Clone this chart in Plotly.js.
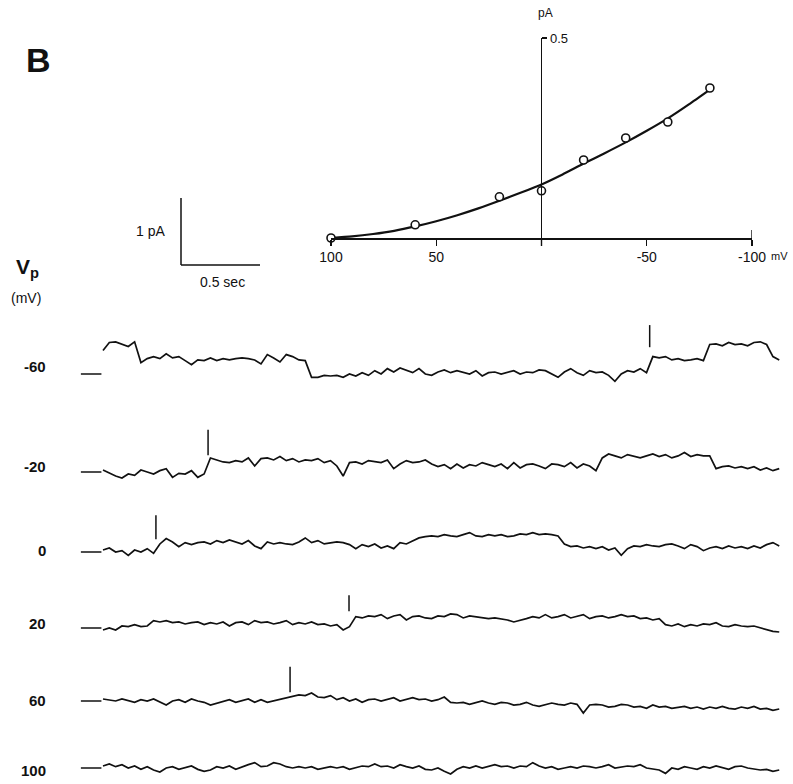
<!DOCTYPE html>
<html><head><meta charset="utf-8">
<script src="https://cdn.plot.ly/plotly-3.0.1.min.js"></script>
<style>html,body{margin:0;padding:0;background:#fff}#chart{width:793px;height:784px}</style>
</head><body><div id="chart"></div>
<script>
// ---------- I-V relation (inset) ----------
const ivVoltage = [100, 60, 20, 0, -20, -40, -60, -80];          // mV
const ivCurrent = [0, 0.033, 0.103, 0.118, 0.195, 0.25, 0.29, 0.375]; // pA
const fitVoltage = [100, 90, 80, 70, 60, 50, 40, 30, 20, 10, 0, -10, -20, -30, -40, -50, -60, -70, -80];
const fitCurrent = [0, 0.004, 0.010, 0.018, 0.029, 0.042, 0.057, 0.074, 0.093, 0.113, 0.134, 0.159, 0.186, 0.212, 0.239, 0.268, 0.299, 0.334, 0.371];
const ivTickVals = [100, 50, -50, -100];
const ivTickText = ['100', '50', '-50', '-100'];

// ---------- single-channel records (pA relative to closed level) ----------
const rowLabels = ['-60', '-20', '0', '20', '60', '100'];   // Vp, mV
const sampleInterval = 0.04;  // s between samples
const rec_m60 = [0.35,0.47,0.48,0.45,0.41,0.48,
 0.17,0.23,0.26,0.23,0.3,0.24,0.26,0.2,0.14,0.21,0.2,0.24,0.2,0.23,0.21,0.23,0.24,0.23,0.21,0.15,0.29,0.24,0.18,0.29,0.26,0.21,0.2,
 -0.05,-0.05,-0.02,-0.03,-0.02,-0.05,0,-0.03,0.02,-0.02,0.05,0,0.08,0.03,0.09,0.05,0.02,0.08,0,-0.02,0.03,0.06,0.02,0.05,0.03,0,0.05,-0.03,0.02,0.03,0,0.02,0.05,0,0.03,0.02,0.06,0.05,0,-0.05,0.03,0.08,0.02,-0.02,0.05,0.02,0.03,-0.02,-0.11,0,0.05,0.03,0.08,0.02,
 0.26,0.24,0.26,0.21,0.23,0.2,0.21,0.23,0.2,
 0.44,0.45,0.42,0.47,0.44,0.45,0.42,0.47,0.48,0.44,
 0.26,0.21];
const rec_m20 = [0.03,-0.02,-0.06,-0.09,-0.03,-0.05,0.03,0,-0.03,0.02,0.05,-0.08,-0.02,-0.03,0.02,-0.08,-0.03,
 0.21,0.18,0.15,0.14,0.17,0.15,0.21,0.09,0.2,0.21,0.18,0.23,0.17,0.2,0.15,0.18,0.17,0.2,0.14,0.17,0.09,-0.06,0.14,0.15,0.12,0.17,0.15,0.14,0.18,0.05,0.12,0.17,0.14,0.15,0.18,0.12,0.08,0.11,0.05,0.12,0.06,0.11,0.09,0.14,0.11,0.08,0.12,0.05,0.14,0.06,0.11,0.12,0.09,0.05,0.12,0.11,0.08,0.14,0.06,0.12,0.09,0.02,
 0.21,0.27,0.24,0.21,0.26,0.23,0.21,0.24,0.27,0.23,0.26,0.21,0.24,0.29,0.23,0.26,0.24,0.24,
 0.05,0.08,0.09,0.06,0.08,0.05,0.08,0.03,0.06,0.02,0.05];
const rec_0 = [0.03,0.06,0,0.02,-0.05,0.03,0,0.05,-0.02,0.12,
 0.2,0.15,0.08,0.14,0.11,0.14,0.15,0.12,0.17,0.14,
 0.18,0.15,0.12,0.17,0.09,0.05,0.15,0.12,0.14,0.12,
 0.11,0.15,0.21,0.14,0.17,0.12,0.14,0.15,0.14,0.11,
 0.05,0.11,0.08,0.12,0.06,0.09,0.05,0.14,0.12,0.17,
 0.21,0.23,0.24,0.23,0.26,0.24,0.23,0.26,0.29,0.24,
 0.23,0.26,0.24,0.26,0.23,0.24,0.27,0.26,0.29,0.26,
 0.27,0.26,0.24,0.12,0.08,0.09,0.06,0.08,0.05,0.08,
 0.03,0.06,-0.05,0.05,0.09,0.08,0.11,0.09,0.08,0.11,
 0.12,0.09,0.05,0.11,0.08,0.02,0.06,0.08,0.05,0.09,
 0.06,0.08,0.05,0.09,0.06,0.11,0.14,0.09];
const rec_20 = [-0.03,0,-0.03,0.03,0.02,0.05,0.02,0.03,0.11,0.09,
 0.11,0.08,0.09,0.06,0.08,0.09,0.05,0.08,0.06,0.09,
 0.03,0.08,0.09,0.05,0.11,0.08,0.09,0.06,0.08,0.11,
 0.05,0.08,0.06,0.09,0.05,0.06,0.03,0.05,-0.03,0.02,
 0.17,0.15,0.18,0.17,0.2,0.14,0.18,0.2,0.12,0.17,
 0.18,0.15,0.14,0.18,0.17,0.21,0.2,0.15,0.18,0.17,
 0.15,0.14,0.15,0.14,0.12,0.09,0.11,0.14,0.17,0.15,
 0.2,0.15,0.17,0.2,0.15,0.18,0.2,0.14,0.17,0.18,
 0.15,0.17,0.2,0.17,0.18,0.14,0.15,0.12,0.14,0.05,
 0.03,0.06,0.02,0.05,0.03,0.06,0.05,0.08,0.03,0.02,
 0.05,0.03,0.02,0.03,0,-0.02,-0.05,-0.06];
const rec_60 = [0.03,0.02,0,0.03,0,-0.02,0.02,0,0.03,-0.02,
 -0.06,0,0.02,-0.02,0.03,0,-0.02,-0.06,-0.03,0,
 0.02,-0.02,0,0.03,-0.02,0.02,-0.02,0,0.02,0.05,
 0.06,0.09,0.08,0.12,0.06,0.05,0.08,0.02,0.05,0,
 0.03,-0.02,0.02,0.03,0,0.02,0.05,0,0.03,0.05,
 0.02,0.03,0,0.02,0.06,-0.02,-0.03,-0.02,-0.05,-0.02,
 0,-0.03,-0.05,-0.02,-0.03,-0.06,-0.05,-0.02,-0.06,-0.08,
 -0.05,-0.03,-0.05,-0.06,-0.03,-0.05,-0.18,-0.06,-0.05,-0.06,
 -0.09,-0.08,-0.05,-0.06,-0.09,-0.08,-0.11,-0.06,-0.09,-0.08,
 -0.11,-0.09,-0.08,-0.11,-0.09,-0.12,-0.09,-0.11,-0.08,-0.11,
 -0.12,-0.09,-0.11,-0.08,-0.12,-0.11,-0.14,-0.12];
const rec_100 = [0.03,0.06,0.02,0.05,0,0.03,-0.02,0.02,-0.03,-0.06,
 0,0.02,-0.02,0,0.03,-0.02,-0.05,-0.03,0.02,0,
 0.03,-0.02,0.02,0.05,0.08,0.02,0.03,0.08,0.06,0.02,
 0,0.02,0,0.02,-0.02,0,0.02,0,0.02,-0.02,
 0,0.03,0.02,0.06,0.02,0.03,0,0.05,0.02,0,
 0.03,-0.02,-0.03,0,-0.05,-0.09,-0.02,0.02,0,0.03,
 0,0.02,0.05,0.02,0.03,0,0.03,0.02,0.08,0.03,
 0,0.02,-0.02,0,0.02,0,0.03,0.02,0,0.02,
 0.05,0,0.02,0.03,0.02,0.05,0,-0.02,-0.03,-0.08,
 0,-0.02,0.02,0,-0.02,0.02,0,0.03,0,-0.02,
 0.02,0.03,0,-0.02,-0.03,-0.02,-0.05,-0.03];
const records = [rec_m60, rec_m20, rec_0, rec_20, rec_60, rec_100];
const eventTimes = [3.46, 0.665, 0.335, 1.557, 1.184, null];   // s, vertical event marks

// ---------- layout / style (positions) ----------
const W = 793, H = 784;
const pxPerPA = 67, pxPerSec = 158, traceStartPx = 103;
const rowBasePx = [374, 472, 552, 628, 701, 768];
const eventSpan = [[0.40,0.73],[0.25,0.63],[0.19,0.55],[0.25,0.49],[0.13,0.51]];
const INK = '#111';
const FONT = 'Liberation Sans, Arial, sans-serif';
const py = p => 1 - p / H, pxx = p => p / W;
const yOf = p => (H - p) / pxPerPA;         // pixel row -> value on stacked pA axis

const data = [];
records.forEach((rec, k) => {
  const base = yOf(rowBasePx[k]);
  data.push({type:'scatter', mode:'lines', x0:0, dx:sampleInterval,
    y: rec.map(v => v + base), xaxis:'x', yaxis:'y',
    line:{color:INK, width:1.7, shape:'linear'}, hoverinfo:'skip'});
  data.push({type:'scatter', mode:'lines', x:[-0.14, -0.01], y:[base, base],
    xaxis:'x', yaxis:'y', line:{color:INK, width:1.5}, hoverinfo:'skip'});
});
// inset
data.push({type:'scatter', mode:'lines', x:fitVoltage, y:fitCurrent, xaxis:'x2', yaxis:'y2',
  line:{color:INK, width:2.2, shape:'spline', smoothing:0.6}, hoverinfo:'skip', cliponaxis:false});
data.push({type:'scatter', mode:'markers', x:ivVoltage, y:ivCurrent, xaxis:'x2', yaxis:'y2', cliponaxis:false,
  marker:{symbol:'circle', size:8, color:'#fff', line:{color:INK, width:1.6}}, hoverinfo:'skip'});

const shapes = [];
eventTimes.forEach((t, k) => {
  if (t === null) return;
  const base = yOf(rowBasePx[k]);
  shapes.push({type:'line', xref:'x', yref:'y', x0:t, x1:t,
    y0:base + eventSpan[k][0], y1:base + eventSpan[k][1], line:{color:INK, width:1.5}});
});
// scale bar: 1 pA vertical, 0.5 s horizontal
const sbT0 = (181 - traceStartPx) / pxPerSec, sbY0 = yOf(265);
shapes.push({type:'line', xref:'x', yref:'y', x0:sbT0, x1:sbT0, y0:sbY0, y1:sbY0 + 1, line:{color:INK, width:1.5}});
shapes.push({type:'line', xref:'x', yref:'y', x0:sbT0, x1:sbT0 + 0.5, y0:sbY0, y1:sbY0, line:{color:INK, width:1.5}});
// zero tick on the I-V voltage axis
shapes.push({type:'line', xref:'x2', yref:'y2', x0:0, x1:0, y0:-0.02, y1:0, line:{color:INK, width:1.4}});
// upward end tick at -100 mV
shapes.push({type:'line', xref:'x2', yref:'y2', x0:-100, x1:-100, y0:0, y1:0.02, line:{color:INK, width:1.4}});

const ann = (x, y, text, size, opts={}) => Object.assign({xref:'paper', yref:'paper', x:pxx(x), y:py(y),
  text, showarrow:false, font:{family:FONT, size, color:INK}, xanchor:'center', yanchor:'middle'}, opts);

const annotations = [
  ann(38, 60, '<b>B</b>', 34),
  ann(545, 13, 'pA', 12),
  ann(769, 256, 'mV', 11, {xanchor:'left'}),
  ann(150, 231, '1 pA', 14),
  ann(222, 282, '0.5 sec', 14),
  ann(27, 268, '<b>V<sub>p</sub></b>', 21),
  ann(26, 298, '(mV)', 14),
];
const labelPx = [367, 466, 550, 623, 700, 770];
rowLabels.forEach((lab, k) => annotations.push(ann(48, labelPx[k], '<b>' + lab + '</b>', 15, {xanchor:'right'})));

const layout = {
  width:W, height:H, margin:{l:0, r:0, t:0, b:0},
  paper_bgcolor:'#fff', plot_bgcolor:'rgba(0,0,0,0)', showlegend:false,
  font:{family:FONT, color:INK},
  xaxis:{domain:[0,1], range:[-traceStartPx/pxPerSec, (W - traceStartPx)/pxPerSec], visible:false, fixedrange:true},
  yaxis:{domain:[0,1], range:[0, H/pxPerPA], visible:false, fixedrange:true},
  xaxis2:{domain:[pxx(331), pxx(752)], range:[100, -100], anchor:'free', position:py(238),
    showline:true, linecolor:INK, linewidth:1.6, showgrid:false, zeroline:false,
    ticks:'outside', ticklen:6, tickwidth:1.4, tickcolor:INK,
    tickvals:ivTickVals, ticktext:ivTickText, tickfont:{family:FONT, size:14, color:INK}},
  yaxis2:{domain:[py(246), py(38)], range:[-0.02, 0.5], anchor:'free', position:pxx(541), side:'right',
    showline:true, linecolor:INK, linewidth:1.4, showgrid:false, zeroline:false,
    ticks:'outside', ticklen:5, tickwidth:1.4, tickcolor:INK,
    tickvals:[0.5], ticktext:['0.5'], tickfont:{family:FONT, size:13, color:INK}},
  shapes, annotations
};
Plotly.newPlot('chart', data, layout, {staticPlot:true, displayModeBar:false});
</script></body></html>
